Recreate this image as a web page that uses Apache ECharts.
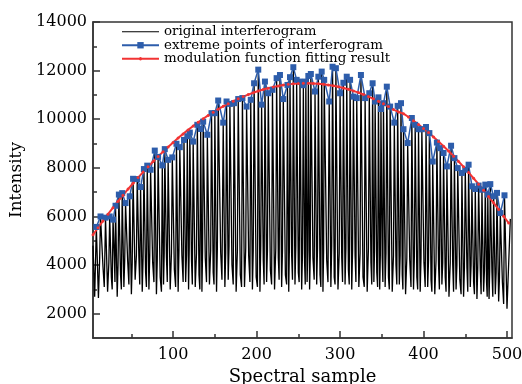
<!DOCTYPE html>
<html>
<head>
<meta charset="utf-8">
<script src="https://cdn.jsdelivr.net/npm/echarts@6/dist/echarts.min.js"></script>
<style>
html,body{margin:0;padding:0;background:#fff;}
#chart{width:522px;height:384px;}
</style>
</head>
<body>
<div id="chart"></div>
<script>
// ---- data ----
const xTicks = [100, 200, 300, 400, 500];
const xMinorTicks = [50, 150, 250, 350, 450];
const yTicks = [2000, 4000, 6000, 8000, 10000, 12000, 14000];
const yMinorTicks = [3000, 5000, 7000, 9000, 11000, 13000];

// extreme points (maxima) of the interferogram
const peakX = [8,13,19,24,28,31,35,39,43,48,
  52,57,61,65,69,73,78,82,87,90,
  94,99,104,108,113,117,120,124,129,133,
  136,141,146,150,154,160,164,168,173,178,
  183,188,193,197,202,206,210,214,219,224,
  228,232,237,240,244,248,252,256,259,262,
  265,270,274,278,281,287,291,295,300,304,
  308,312,316,320,325,330,335,339,342,346,
  349,352,356,360,365,369,373,376,381,386,
  390,394,398,403,407,411,416,420,424,428,
  433,437,441,446,450,454,458,462,466,470,
  474,477,480,484,488,492,497];
const peakY = [5570,6000,5950,6000,5870,6440,6900,6960,6550,6830,
  7550,7540,7210,7950,8090,7920,8710,8450,8100,8770,
  8330,8430,8990,8850,9150,9300,9450,9080,9770,9600,
  9900,9360,10250,10250,10770,9860,10730,10630,10660,10830,
  10870,10520,10800,11480,12040,10600,11550,11070,11210,11690,
  11820,10830,11410,11730,12140,11620,11550,11400,11550,11780,
  11860,11140,11750,11960,11620,10730,12160,12100,11070,11500,
  11750,11620,10930,10870,11820,10870,11070,11480,10730,10900,
  10420,10660,11340,10520,9860,10550,10660,9590,9020,10050,
  9770,9590,9590,9680,9430,8260,9040,8810,8610,8060,
  8910,8400,7990,7790,7920,8130,7240,7130,7270,7100,
  7310,6900,7330,6830,6970,6140,6870];

// deepest sample of each fringe
const troughX = [6,10.5,16,21.5,26,29.5,33,37,41,45.5,50,
  54.5,59,63,67,71,75.5,80,84.5,88.5,92,
  96.5,101.5,106,110.5,115,118.5,122,126.5,131,134.5,
  138.5,143.5,148,152,157,162,166,170.5,175.5,180.5,
  185.5,190.5,195,199.5,204,208,212,216.5,221.5,226,
  230,234.5,238.5,242,246,250,254,257.5,260.5,263.5,
  267.5,272,276,279.5,284,289,293,297.5,302,306,
  310,314,318,322.5,327.5,332.5,337,340.5,344,347.5,
  350.5,354,358,362.5,367,371,374.5,378.5,383.5,388,
  392,396,400.5,405,409,413.5,418,422,426,430.5,
  435,439,443.5,448,452,456,460,464,468,472,
  475.5,478.5,482,486,490,494.5,500];
const troughY = [2700,2650,3900,2900,3500,4400,2700,3600,3100,4200,2800,
  3400,4300,2900,3700,3000,4100,2800,3500,3200,4300,
  3000,3800,2900,4400,3300,3000,4200,3100,3600,2900,
  4300,3200,3700,2900,4500,3100,3400,4000,2900,3600,
  3100,4400,3000,3500,2900,4200,3300,3800,3000,4300,
  3100,3600,2900,4400,3200,3700,3000,4100,3300,3000,
  4300,3200,3600,2900,4200,3100,3500,3000,4300,3200,
  3800,3000,4400,3100,3500,2900,4100,3300,3700,3000,
  4300,3100,3500,2900,4000,3200,3600,2800,4200,3000,
  3500,2900,4100,3100,3400,2800,4000,3200,3500,2700,
  4000,3000,3400,2700,3900,3100,3300,2600,3800,2900,
  3300,2600,3700,2800,2500,3300,2200];

// second low sample of each fringe (rising side)
const lowX = [12,17.5,23,27,30.3,34,38,42,47,51,
  56,60,64,68,72,77,81,86,89.3,93,
  98,103,107,112,116,119.3,123,128,132,135.3,
  140,145,149,153,158.5,163,167,172,177,182,
  187,192,196,201,205,209,213,218,223,227,
  231,236,239.3,243,247,251,255,258.3,261.3,264.3,
  269,273,277,280.3,285.5,290,294,299,303,307,
  311,315,319,324,329,334,338,341.3,345,348.3,
  351.3,355,359,364,368,372,375.3,380,385,389,
  393,397,402,406,410,415,419,423,427,432,
  436,440,445,449,453,457,461,465,469,473,
  476.3,479.3,483,487,491,496];
const lowY = [4300,3100,4100,3000,3300,4000,3000,4200,3200,4100,
  4400,3200,4300,3100,4400,3300,4200,2900,4500,3300,
  4500,3100,4600,3300,4400,4700,3200,4500,3000,4600,
  3300,4600,3200,4700,3400,4500,4800,3200,4600,3100,
  4700,3300,4600,3100,4800,3200,4600,3200,4700,3400,
  4600,3200,4700,3400,4800,3300,4500,3200,4600,4400,
  3400,4700,3100,4600,3300,4800,3200,4500,3300,4700,
  3200,4600,3300,4500,3100,4700,3200,4600,3100,4500,
  3300,4500,3000,4400,3200,4400,3000,4300,3100,4300,
  3000,4300,3100,4200,2900,4200,3000,4100,2900,4100,
  2900,4000,2800,3900,2900,4000,2800,3900,2800,3800,
  2700,3800,2700,3700,3500,2400];

// ends of the interferogram trace
const edgeX = [4, 504];
const edgeY = [4800, 5900];

// modulation function fitting result
const fitX = [4,10,16,22,28,34,40,46,52,58,64,70,76,82,88,94,100,106,112,118,
  124,130,136,142,148,154,160,166,172,178,184,190,196,202,208,214,220,226,232,238,
  244,250,256,262,268,274,280,286,292,298,304,310,316,322,328,334,340,346,352,358,
  364,370,376,382,388,394,400,406,412,418,424,430,436,442,448,454,460,466,472,478,
  484,490,496,502];
const fitY = [5248,5536,5818,6093,6361,6623,6877,7125,7366,7600,7827,8047,8260,8467,8667,8859,9045,9225,9397,9562,
  9721,9873,10018,10156,10287,10411,10529,10640,10744,10841,10931,11014,11090,11160,11223,11279,11328,11370,11405,11434,
  11456,11470,11478,11480,11474,11460,11440,11412,11378,11336,11286,11230,11166,11096,11018,10932,10840,10740,10634,10520,
  10398,10300,10230,10090,9940,9780,9620,9450,9270,9080,8890,8690,8480,8260,8040,7810,7570,7330,7080,6820,
  6560,6290,6010,5730];

const seriesNames = ['original interferogram', 'extreme points of interferogram', 'modulation function fitting result'];

// ---- build library data ----
const interf = [];
peakX.forEach((x, i) => interf.push([x, peakY[i]]));
troughX.forEach((x, i) => interf.push([x, troughY[i]]));
lowX.forEach((x, i) => interf.push([x, lowY[i]]));
edgeX.forEach((x, i) => interf.push([x, edgeY[i]]));
interf.sort((a, b) => a[0] - b[0]);
const peaks = peakX.map((x, i) => [x, peakY[i]]);
const fit = fitX.map((x, i) => [x, fitY[i]]);

const FONT = 'DejaVu Serif';
const AX = '#333';

const chart = echarts.init(document.getElementById('chart'), null, {renderer: 'canvas'});
chart.setOption({
  animation: false,
  backgroundColor: '#fff',
  grid: {left: 93, right: 10, top: 22, bottom: 46, show: true, borderColor: AX, borderWidth: 1.5,
         backgroundColor: 'transparent', outerBoundsMode: 'none', containLabel: false},
  legend: {
    data: [
      {name: seriesNames[0], icon: 'path://M0,0L40,0L40,1.1L0,1.1Z'},
      {name: seriesNames[1]},
      {name: seriesNames[2], icon: 'path://M0,0L0.01,0M40,8L40.01,8M0,3L40,3L40,5L0,5ZM20,2.2A1.8,1.8,0,1,1,20,5.8A1.8,1.8,0,1,1,20,2.2Z'}
    ],
    orient: 'vertical',
    left: 121, top: 25, padding: 0,
    itemWidth: 37, itemHeight: 8, itemGap: 0,
    textStyle: {fontFamily: FONT, fontSize: 13.4, lineHeight: 13.5, color: '#000'}
  },
  xAxis: [{
    type: 'value', min: 4, max: 506, interval: 100, position: 'bottom',
    name: 'Spectral sample', nameLocation: 'middle', nameGap: 29,
    nameTextStyle: {fontFamily: FONT, fontSize: 18, color: '#000'},
    axisLine: {show: true, lineStyle: {color: AX, width: 1.5}},
    axisTick: {show: true, inside: true, length: 7, customValues: xTicks, lineStyle: {color: AX, width: 1.5}},
    axisLabel: {customValues: xTicks, fontFamily: FONT, fontSize: 16, color: '#000', margin: 9},
    splitLine: {show: false}
  }, {
    type: 'value', min: 4, max: 506, position: 'bottom',
    axisLine: {show: false},
    axisTick: {show: true, inside: true, length: 4, customValues: xMinorTicks, lineStyle: {color: AX, width: 1.5}},
    axisLabel: {show: false}, splitLine: {show: false}
  }],
  yAxis: [{
    type: 'value', min: 1000, max: 14000, interval: 1000,
    name: 'Intensity', nameLocation: 'middle', nameGap: 61,
    nameTextStyle: {fontFamily: FONT, fontSize: 17, color: '#000'},
    axisLine: {show: true, lineStyle: {color: AX, width: 1.5}},
    axisTick: {show: true, inside: true, length: 7, customValues: yTicks, lineStyle: {color: AX, width: 1.5}},
    axisLabel: {customValues: yTicks, formatter: v => String(v), fontFamily: FONT, fontSize: 16, color: '#000', margin: 6},
    splitLine: {show: false}
  }, {
    type: 'value', min: 1000, max: 14000, position: 'left',
    axisLine: {show: false},
    axisTick: {show: true, inside: true, length: 4, customValues: yMinorTicks, lineStyle: {color: AX, width: 1.5}},
    axisLabel: {show: false}, splitLine: {show: false}
  }],
  series: [{
    name: seriesNames[0], type: 'line', data: interf,
    symbol: 'none', lineStyle: {color: '#000', width: 1.3}, itemStyle: {color: '#000'}
  }, {
    name: seriesNames[1], type: 'line', data: peaks,
    symbol: 'rect', symbolSize: 6, showSymbol: true,
    lineStyle: {color: '#2d5dab', width: 1.5}, itemStyle: {color: '#2d5dab'}
  }, {
    name: seriesNames[2], type: 'line', data: fit,
    symbol: 'circle', symbolSize: 3, showSymbol: true,
    lineStyle: {color: '#f23333', width: 2}, itemStyle: {color: '#f23333'}
  }]
});
</script>
</body>
</html>
